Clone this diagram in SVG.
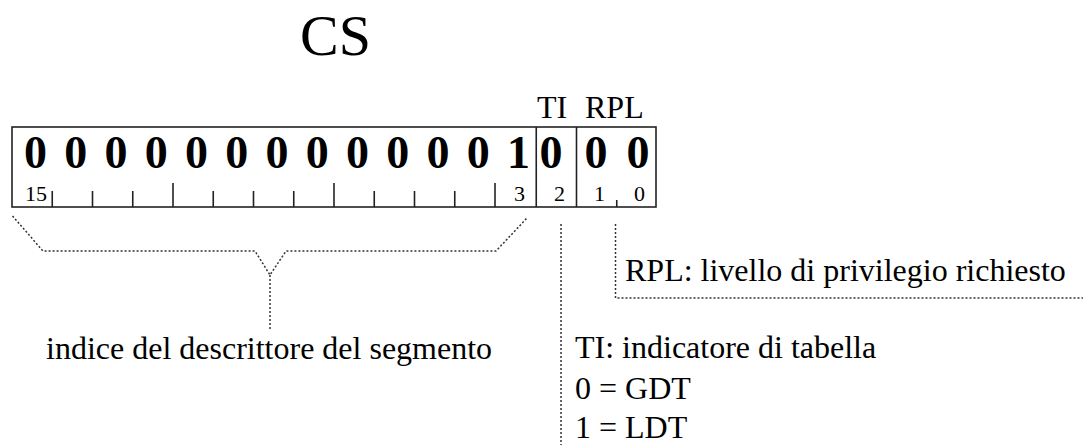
<svg xmlns="http://www.w3.org/2000/svg" width="1083" height="445" viewBox="0 0 1083 445">
<style>
.t{font-family:"Liberation Serif","Times New Roman",serif;fill:#000}
.big{font-size:46px;font-weight:bold;text-anchor:middle}
.bit{font-size:22px;text-anchor:end}
.lbl{font-size:32px}
.box{fill:none;stroke:#222;stroke-width:1.6}
.tick{stroke:#222;stroke-width:1.6}
.dot{fill:none;stroke:#333;stroke-width:1.5;stroke-dasharray:2 2}
</style>
<rect width="1083" height="445" fill="#fff"/>
<text class="t" x="300" y="55" font-size="58">CS</text>
<g id="register">
<rect class="box" x="12" y="127" width="644" height="80"/>
<line class="tick" x1="536.25" y1="127" x2="536.25" y2="207"/>
<line class="tick" x1="576.5" y1="127" x2="576.5" y2="207"/>
<g id="ticks">
<line class="tick" x1="52.25" y1="191" x2="52.25" y2="207"/>
<line class="tick" x1="92.5" y1="191" x2="92.5" y2="207"/>
<line class="tick" x1="132.75" y1="191" x2="132.75" y2="207"/>
<line class="tick" x1="173" y1="183" x2="173" y2="207"/>
<line class="tick" x1="213.25" y1="191" x2="213.25" y2="207"/>
<line class="tick" x1="253.5" y1="191" x2="253.5" y2="207"/>
<line class="tick" x1="293.75" y1="191" x2="293.75" y2="207"/>
<line class="tick" x1="334" y1="183" x2="334" y2="207"/>
<line class="tick" x1="374.25" y1="191" x2="374.25" y2="207"/>
<line class="tick" x1="414.5" y1="191" x2="414.5" y2="207"/>
<line class="tick" x1="454.75" y1="191" x2="454.75" y2="207"/>
<line class="tick" x1="495" y1="183" x2="495" y2="207"/>
<line class="tick" x1="616.75" y1="200" x2="616.75" y2="207"/>
</g>
<g id="bits" class="t big">
<text x="35.6" y="168">0</text>
<text x="75.85" y="168">0</text>
<text x="116.1" y="168">0</text>
<text x="156.35" y="168">0</text>
<text x="196.6" y="168">0</text>
<text x="236.85" y="168">0</text>
<text x="277.1" y="168">0</text>
<text x="317.35" y="168">0</text>
<text x="357.6" y="168">0</text>
<text x="397.85" y="168">0</text>
<text x="438.1" y="168">0</text>
<text x="478.35" y="168">0</text>
<text x="518.6" y="168">1</text>
<text x="551" y="168">0</text>
<text x="596" y="168">0</text>
<text x="638" y="168">0</text>
</g>
<g id="bitnums" class="t bit">
<text x="47" y="201">15</text>
<text x="525" y="201">3</text>
<text x="565" y="201">2</text>
<text x="605" y="201">1</text>
<text x="645" y="201">0</text>
</g>
<text class="t lbl" x="537" y="118">TI</text>
<text class="t lbl" x="585" y="118">RPL</text>
</g>
<g id="connectors">
<polyline class="dot" points="12.5,216 43,251 255,251 270,275 286,251 496,251 527,218"/>
<line class="dot" x1="270" y1="275" x2="270" y2="330"/>
<line class="dot" x1="561" y1="224" x2="561" y2="445"/>
<polyline class="dot" points="615.5,224 615.5,298 1083,298"/>
</g>
<g id="index-label">
<text class="t lbl" x="46" y="359">indice del descrittore del segmento</text>
</g>
<g id="rpl-label">
<text class="t lbl" x="625" y="281">RPL: livello di privilegio richiesto</text>
</g>
<g id="ti-label" class="t lbl">
<text x="575" y="358">TI: indicatore di tabella</text>
<text x="575" y="399">0 = GDT</text>
<text x="575" y="438">1 = LDT</text>
</g>
</svg>
